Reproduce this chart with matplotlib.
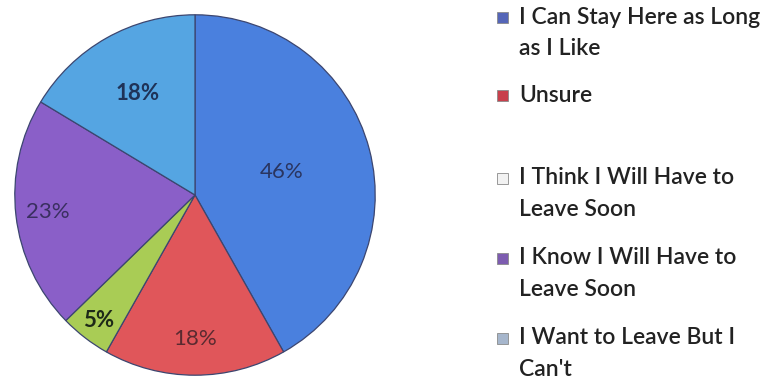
import numpy as np
import matplotlib.pyplot as plt
from matplotlib.patches import Rectangle

# survey answers, clockwise from 12 o'clock
answers = [
    "I Can Stay Here as Long\nas I Like",
    "Unsure",
    "I Think I Will Have to\nLeave Soon",
    "I Know I Will Have to\nLeave Soon",
    "I Want to Leave But I\nCan't",
]
percents = [46, 18, 5, 23, 18]

slice_colors = ["#4a80de", "#e0565a", "#a9cc55", "#8a5fc8", "#55a5e2"]
key_colors = ["#5566b8", "#c8404c", "#f2f2f2", "#7d5cb0", "#a6b6cc"]
label_colors = ["#2a3560", "#5a2a30", "#1e2a18", "#3a2f60", "#1f3358"]
label_weight = ["normal", "normal", "bold", "normal", "bold"]
label_dist = [0.50, 0.80, 0.88, 0.82, 0.65]

plt.rcParams['font.family'] = ['Lato', 'DejaVu Sans']

fig = plt.figure(figsize=(7.73, 3.85), dpi=100)
W, H = 773, 385
cx, cy, r = 195, 195, 182
ax = fig.add_axes([(cx - r) / W, (H - cy - r) / H, 2 * r / W, 2 * r / H])

wedges, _ = ax.pie(percents, colors=slice_colors, startangle=90, counterclock=False,
                   radius=1, wedgeprops=dict(edgecolor="#3c4670", linewidth=0.9))
ax.set_xlim(-1.01, 1.01)
ax.set_ylim(-1.01, 1.01)
ax.set_aspect('equal')
ax.axis('off')

# percentage labels inside each slice
for w, p, d, c, fw in zip(wedges, percents, label_dist, label_colors, label_weight):
    mid = np.deg2rad((w.theta1 + w.theta2) / 2)
    ax.text(d * np.cos(mid), d * np.sin(mid), f"{p}%", ha='center', va='center',
            fontsize=16, color=c, fontweight=fw)

# legend drawn by hand so the wrapped labels line up like the original
rows = [17, 95, 178, 258, 338]
line_h = 31.5
for ans, kc, y in zip(answers, key_colors, rows):
    fig.patches.append(Rectangle((497 / W, 1 - (y + 6) / H), 11 / W, 11 / H,
                                 transform=fig.transFigure, facecolor=kc,
                                 edgecolor="#8a8a8a", linewidth=0.6))
    for i, line in enumerate(ans.split("\n")):
        fig.text(519 / W, 1 - (y + i * line_h) / H, line, ha='left', va='center',
                 fontsize=16.5, color="#222222", fontweight='semibold')

plt.savefig("out.png", dpi=100)
